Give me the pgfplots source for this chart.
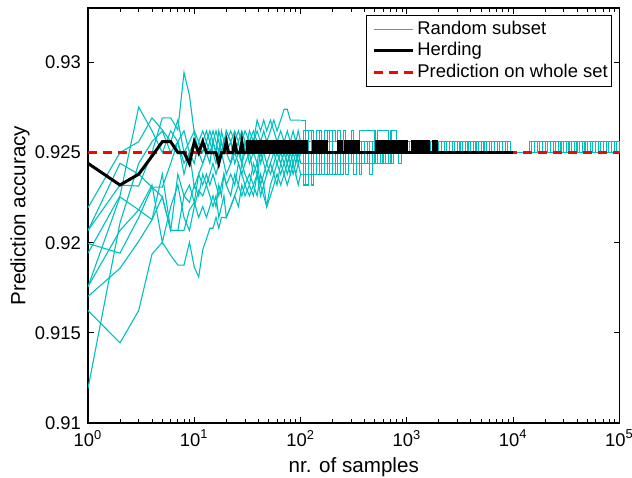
\documentclass[border=0pt]{standalone}
\usepackage{fontspec}
\setmainfont{Liberation Sans}
\usepackage{pgfplots}
\usepackage{pgfplotstable}
\pgfplotsset{compat=1.18}
\definecolor{mcyan}{RGB}{0,191,191}

% random subsets, n = 1 ... 100 (plotted as lines)
\pgfplotstableread{
n c1 c2 c3 c4 c5 c6 c7 c8 c9 c10
1 0.91192 0.91624 0.91702 0.91756 0.91942 0.91996 0.92068 0.92194 0.92068 0.91756
2 0.9211 0.91444 0.91858 0.92068 0.9226 0.91942 0.9232 0.925 0.9244 0.92254
3 0.9244 0.91624 0.92008 0.92182 0.92752 0.9214 0.92314 0.9256 0.9238 0.92182
4 0.9256 0.91936 0.92128 0.9232 0.9262 0.92308 0.925 0.92692 0.92308 0.92128
5 0.9262 0.92002 0.92254 0.92002 0.925 0.92254 0.92692 0.92626 0.92308 0.9238
6 0.925 0.9193 0.92068 0.922 0.9262 0.92068 0.92692 0.9256 0.9244 0.92068
7 0.9256 0.91876 0.92068 0.9232 0.9256 0.9238 0.92626 0.9268 0.9256 0.92068
8 0.9244 0.91876 0.92068 0.9214 0.9238 0.9226 0.92944 0.925 0.9262 0.9226
9 0.925 0.92002 0.92182 0.92068 0.925 0.92224 0.92818 0.9256 0.925 0.9232
10 0.9256 0.91864 0.92224 0.922 0.92308 0.9232 0.92608 0.9262 0.9244 0.92224
11 0.925 0.9181 0.9214 0.9229 0.9238 0.9226 0.925 0.9256 0.9256 0.9238
12 0.9244 0.9196 0.922 0.9226 0.9244 0.9238 0.9256 0.925 0.9262 0.9232
13 0.925 0.9202 0.9214 0.9232 0.925 0.9232 0.9262 0.9256 0.9256 0.9238
14 0.9256 0.9208 0.922 0.9226 0.9244 0.9238 0.9256 0.925 0.9262 0.9232
15 0.925 0.9208 0.9226 0.922 0.9256 0.9244 0.9262 0.9256 0.9256 0.9238
16 0.9244 0.9214 0.922 0.9226 0.925 0.9238 0.9256 0.9262 0.925 0.9232
17 0.925 0.9208 0.9232 0.9214 0.9262 0.9244 0.925 0.9256 0.9244 0.9226
18 0.9256 0.9214 0.9226 0.922 0.9256 0.925 0.9262 0.925 0.925 0.9232
19 0.925 0.9214 0.9238 0.9226 0.925 0.9244 0.9256 0.9256 0.9256 0.9238
20 0.9262 0.9214 0.9232 0.9214 0.9256 0.9238 0.9262 0.925 0.925 0.9232
22 0.9256 0.922 0.9226 0.922 0.9262 0.9244 0.9256 0.9256 0.9244 0.9238
24 0.925 0.9226 0.9238 0.9226 0.9256 0.925 0.9262 0.9244 0.9256 0.9232
26 0.9256 0.922 0.9232 0.9232 0.9262 0.9244 0.9256 0.925 0.925 0.9244
28 0.9244 0.9232 0.9244 0.9226 0.9256 0.9238 0.9262 0.9256 0.9244 0.9238
30 0.925 0.9226 0.9238 0.9232 0.925 0.9244 0.9256 0.9262 0.9256 0.9232
33 0.9256 0.9232 0.9232 0.9238 0.9262 0.925 0.925 0.9256 0.9244 0.9226
36 0.925 0.9226 0.9244 0.9232 0.9256 0.9238 0.9256 0.9262 0.925 0.9232
39 0.9256 0.9238 0.9238 0.9226 0.9268 0.9244 0.9262 0.9256 0.9244 0.9238
42 0.9244 0.9232 0.925 0.9238 0.9262 0.9232 0.9256 0.925 0.9256 0.9226
45 0.925 0.9226 0.9244 0.9232 0.9268 0.9238 0.9262 0.9256 0.925 0.9232
48 0.9256 0.922 0.9238 0.9238 0.9262 0.9244 0.9256 0.925 0.9244 0.922
52 0.925 0.9232 0.9244 0.9244 0.9268 0.9238 0.9262 0.9256 0.925 0.9226
56 0.9256 0.9238 0.925 0.9238 0.9262 0.9244 0.9268 0.925 0.9256 0.9232
60 0.925 0.9232 0.9244 0.9244 0.9256 0.925 0.9262 0.9256 0.925 0.9238
65 0.9244 0.9244 0.9238 0.925 0.9262 0.9244 0.9268 0.925 0.9256 0.9232
70 0.925 0.9238 0.9244 0.9244 0.9256 0.925 0.9274 0.9256 0.925 0.9238
75 0.9256 0.9232 0.925 0.9238 0.925 0.9244 0.9274 0.9262 0.9244 0.9244
80 0.925 0.9238 0.9244 0.9244 0.9256 0.925 0.9268 0.9256 0.925 0.9238
85 0.9256 0.9244 0.925 0.9238 0.9262 0.9244 0.9268 0.925 0.9256 0.9244
90 0.925 0.9238 0.9244 0.9244 0.9256 0.925 0.9268 0.9256 0.925 0.9238
95 0.9256 0.9232 0.925 0.925 0.9262 0.9244 0.9268 0.925 0.9256 0.9244
100 0.925 0.9238 0.9244 0.9244 0.9256 0.925 0.9268 0.9256 0.925 0.9238
}\tabA

% random subsets, n = 100 ... 100000 (step changes)
\pgfplotstableread{
n c1 c2 c3 c4 c5 c6 c7 c8 c9 c10
100 0.925 0.9238 0.9244 0.9244 0.9256 0.925 0.9268 0.9256 0.925 0.9238
106 0.9256 0.9232 0.925 0.9238 0.9262 0.9244 0.9268 0.925 0.9256 0.9244
112 0.925 0.9238 0.9244 0.9244 0.9256 0.925 0.9262 0.9256 0.925 0.9232
119 0.9244 0.9244 0.9238 0.9238 0.9262 0.9256 0.9262 0.925 0.9244 0.9238
126 0.925 0.9238 0.9244 0.9232 0.9256 0.925 0.9262 0.9244 0.9238 0.9244
133 0.9256 0.9244 0.925 0.9238 0.925 0.9244 0.9256 0.925 0.9244 0.9238
141 0.925 0.9238 0.9244 0.9244 0.9256 0.925 0.9262 0.9256 0.925 0.9244
150 0.9256 0.9244 0.9238 0.9238 0.9262 0.9256 0.9262 0.925 0.9244 0.9238
158 0.925 0.9244 0.9244 0.9244 0.9256 0.925 0.9256 0.9244 0.925 0.9238
168 0.925 0.9238 0.925 0.9238 0.9256 0.9244 0.9262 0.925 0.9256 0.9244
178 0.9256 0.9244 0.9244 0.9244 0.9262 0.925 0.9256 0.9256 0.925 0.9238
188 0.925 0.9244 0.9238 0.9238 0.9256 0.9256 0.9262 0.925 0.9244 0.9244
200 0.9256 0.925 0.9244 0.9244 0.9262 0.925 0.9256 0.9244 0.9238 0.9238
211 0.9256 0.9244 0.925 0.9238 0.9256 0.9244 0.9256 0.925 0.9244 0.9244
224 0.925 0.9238 0.9244 0.9244 0.925 0.925 0.9262 0.9256 0.925 0.9244
237 0.9244 0.9244 0.925 0.925 0.9256 0.9256 0.9256 0.925 0.9244 0.9238
251 0.925 0.925 0.9256 0.9244 0.9262 0.925 0.925 0.9244 0.925 0.9244
266 0.9256 0.9244 0.925 0.9238 0.9256 0.9244 0.9256 0.9244 0.9256 0.9244
282 0.925 0.9244 0.9244 0.9244 0.9256 0.925 0.9256 0.925 0.925 0.925
299 0.9256 0.925 0.925 0.9244 0.9262 0.925 0.925 0.9256 0.9244 0.9244
316 0.925 0.9244 0.9256 0.925 0.9256 0.9256 0.9256 0.925 0.925 0.9238
335 0.925 0.925 0.925 0.9244 0.9256 0.925 0.9256 0.9244 0.9244 0.9244
355 0.9256 0.9244 0.9244 0.9238 0.9262 0.9244 0.925 0.925 0.925 0.9244
376 0.925 0.925 0.925 0.9244 0.9262 0.925 0.9256 0.9256 0.9244 0.925
398 0.9256 0.925 0.9256 0.925 0.9262 0.925 0.9256 0.925 0.925 0.9244
422 0.925 0.9244 0.925 0.9244 0.9262 0.9256 0.925 0.9244 0.925 0.9244
447 0.9256 0.925 0.9244 0.9238 0.9262 0.925 0.9256 0.925 0.9244 0.925
473 0.925 0.925 0.925 0.9244 0.9262 0.9244 0.9256 0.9256 0.925 0.9244
501 0.9256 0.9244 0.925 0.925 0.9256 0.925 0.925 0.925 0.9256 0.9244
531 0.9256 0.925 0.9256 0.9244 0.9262 0.925 0.9256 0.9244 0.925 0.9244
562 0.925 0.9256 0.925 0.925 0.9262 0.9256 0.9256 0.925 0.9244 0.925
596 0.9256 0.925 0.9244 0.9244 0.9262 0.925 0.925 0.925 0.925 0.9244
631 0.925 0.925 0.925 0.9244 0.9262 0.925 0.9256 0.9256 0.925 0.925
668 0.925 0.9256 0.9256 0.925 0.9256 0.9244 0.9256 0.925 0.9256 0.925
708 0.9256 0.925 0.925 0.9244 0.9262 0.925 0.9256 0.9244 0.925 0.9244
750 0.925 0.925 0.925 0.925 0.9262 0.9256 0.925 0.925 0.9256 0.925
794 0.9256 0.9256 0.9256 0.925 0.9256 0.925 0.9256 0.925 0.925 0.925
841 0.925 0.925 0.925 0.9244 0.9256 0.925 0.9256 0.9256 0.925 0.925
891 0.9256 0.925 0.9256 0.925 0.9256 0.9256 0.925 0.925 0.9256 0.925
944 0.925 0.9256 0.925 0.925 0.925 0.925 0.9256 0.925 0.9256 0.925
1000 0.9256 0.925 0.925 0.925 0.9256 0.925 0.9256 0.9256 0.925 0.925
1059 0.925 0.925 0.9256 0.925 0.9256 0.925 0.9256 0.925 0.9256 0.925
1122 0.9256 0.925 0.925 0.925 0.9256 0.9256 0.925 0.925 0.925 0.925
1189 0.925 0.9256 0.9256 0.925 0.9256 0.925 0.9256 0.9256 0.9256 0.925
1259 0.9256 0.925 0.9256 0.925 0.9256 0.925 0.9256 0.925 0.925 0.925
1334 0.925 0.925 0.925 0.925 0.9256 0.9256 0.9256 0.9256 0.9256 0.925
1413 0.925 0.925 0.9256 0.9256 0.9256 0.925 0.925 0.925 0.9256 0.925
1496 0.9256 0.9256 0.925 0.925 0.9256 0.925 0.9256 0.925 0.925 0.925
1585 0.925 0.925 0.9256 0.925 0.9256 0.9256 0.9256 0.9256 0.925 0.925
1679 0.9256 0.925 0.9256 0.925 0.9256 0.925 0.925 0.925 0.9256 0.925
1778 0.925 0.925 0.925 0.925 0.9256 0.925 0.9256 0.9256 0.925 0.925
1884 0.9256 0.925 0.9256 0.925 0.9256 0.9256 0.9256 0.925 0.9256 0.925
1995 0.9256 0.9256 0.925 0.925 0.9256 0.925 0.9256 0.9256 0.925 0.925
2113 0.925 0.925 0.9256 0.9256 0.9256 0.925 0.925 0.925 0.9256 0.925
2239 0.9256 0.925 0.925 0.925 0.9256 0.9256 0.9256 0.925 0.9256 0.925
2371 0.925 0.925 0.9256 0.925 0.9256 0.925 0.9256 0.9256 0.925 0.925
2512 0.9256 0.9256 0.9256 0.925 0.9256 0.925 0.925 0.925 0.9256 0.925
2661 0.925 0.925 0.925 0.925 0.9256 0.9256 0.9256 0.9256 0.925 0.925
2818 0.9256 0.925 0.9256 0.925 0.9256 0.925 0.9256 0.925 0.925 0.925
2985 0.925 0.925 0.925 0.925 0.9256 0.9256 0.9256 0.9256 0.9256 0.925
3162 0.9256 0.925 0.9256 0.925 0.9256 0.925 0.925 0.9256 0.925 0.925
3350 0.925 0.925 0.9256 0.925 0.9256 0.925 0.9256 0.925 0.9256 0.925
3548 0.9256 0.925 0.925 0.925 0.9256 0.9256 0.9256 0.9256 0.925 0.925
3758 0.925 0.9256 0.9256 0.925 0.9256 0.925 0.925 0.925 0.9256 0.925
3981 0.9256 0.925 0.925 0.925 0.9256 0.925 0.9256 0.9256 0.9256 0.925
4217 0.925 0.925 0.9256 0.925 0.9256 0.9256 0.9256 0.925 0.925 0.925
4467 0.9256 0.925 0.9256 0.925 0.9256 0.925 0.9256 0.925 0.9256 0.925
4732 0.9256 0.925 0.925 0.925 0.9256 0.9256 0.925 0.9256 0.925 0.925
5012 0.925 0.9256 0.9256 0.925 0.9256 0.925 0.9256 0.925 0.9256 0.925
5309 0.9256 0.925 0.925 0.925 0.9256 0.925 0.9256 0.9256 0.925 0.925
5623 0.925 0.925 0.9256 0.925 0.9256 0.9256 0.925 0.925 0.9256 0.925
5957 0.9256 0.925 0.9256 0.925 0.9256 0.925 0.9256 0.9256 0.9256 0.925
6310 0.925 0.9256 0.925 0.925 0.9256 0.9256 0.9256 0.925 0.925 0.925
6683 0.9256 0.925 0.9256 0.925 0.9256 0.925 0.9256 0.925 0.9256 0.925
7079 0.925 0.925 0.925 0.925 0.9256 0.925 0.925 0.9256 0.925 0.925
7499 0.9256 0.925 0.9256 0.925 0.9256 0.9256 0.9256 0.925 0.9256 0.925
7943 0.925 0.925 0.9256 0.925 0.9256 0.925 0.9256 0.9256 0.9256 0.925
8414 0.9256 0.9256 0.925 0.925 0.9256 0.9256 0.925 0.925 0.925 0.925
8913 0.925 0.925 0.925 0.925 0.9256 0.925 0.925 0.925 0.925 0.925
9441 0.925 0.925 0.925 0.925 0.925 0.925 0.925 0.925 0.925 0.925
14125 0.9256 0.925 0.925 0.925 0.9256 0.925 0.9256 0.925 0.9256 0.925
14962 0.925 0.925 0.9256 0.925 0.9256 0.9256 0.9256 0.925 0.925 0.925
15849 0.9256 0.9256 0.925 0.925 0.9256 0.925 0.925 0.9256 0.9256 0.925
16788 0.925 0.925 0.9256 0.925 0.9256 0.925 0.9256 0.925 0.925 0.925
17783 0.9256 0.925 0.9256 0.925 0.9256 0.9256 0.9256 0.9256 0.925 0.925
18836 0.925 0.925 0.925 0.925 0.9256 0.925 0.9256 0.925 0.9256 0.925
19953 0.9256 0.9256 0.9256 0.925 0.9256 0.9256 0.925 0.925 0.925 0.925
21135 0.9256 0.925 0.925 0.925 0.9256 0.925 0.9256 0.9256 0.9256 0.925
22387 0.925 0.925 0.9256 0.925 0.9256 0.925 0.9256 0.925 0.925 0.925
23714 0.9256 0.925 0.9256 0.925 0.9256 0.9256 0.925 0.9256 0.9256 0.925
25119 0.925 0.925 0.925 0.925 0.9256 0.925 0.9256 0.925 0.9256 0.925
26607 0.9256 0.9256 0.9256 0.925 0.9256 0.9256 0.9256 0.925 0.925 0.925
28184 0.925 0.925 0.925 0.925 0.9256 0.925 0.9256 0.9256 0.9256 0.925
29854 0.9256 0.925 0.9256 0.925 0.9256 0.925 0.925 0.925 0.925 0.925
31623 0.925 0.9256 0.9256 0.925 0.9256 0.9256 0.9256 0.9256 0.925 0.925
33497 0.9256 0.925 0.925 0.925 0.9256 0.925 0.9256 0.925 0.9256 0.925
35481 0.925 0.925 0.9256 0.925 0.9256 0.9256 0.925 0.9256 0.925 0.925
37584 0.925 0.925 0.925 0.925 0.9256 0.925 0.9256 0.925 0.9256 0.925
39811 0.9256 0.9256 0.9256 0.925 0.9256 0.925 0.9256 0.925 0.925 0.925
42170 0.925 0.925 0.925 0.925 0.9256 0.9256 0.9256 0.9256 0.9256 0.925
44668 0.9256 0.925 0.9256 0.925 0.9256 0.925 0.925 0.925 0.9256 0.925
47315 0.925 0.925 0.9256 0.925 0.9256 0.9256 0.9256 0.9256 0.925 0.925
50119 0.9256 0.925 0.925 0.925 0.9256 0.925 0.9256 0.925 0.9256 0.925
53088 0.925 0.9256 0.9256 0.925 0.9256 0.925 0.925 0.925 0.925 0.925
56234 0.9256 0.925 0.925 0.925 0.9256 0.9256 0.9256 0.9256 0.925 0.925
59566 0.925 0.925 0.9256 0.925 0.9256 0.925 0.9256 0.925 0.9256 0.925
63096 0.9256 0.9256 0.9256 0.925 0.9256 0.9256 0.9256 0.9256 0.925 0.925
66834 0.925 0.925 0.925 0.925 0.9256 0.925 0.925 0.925 0.9256 0.925
70795 0.9256 0.925 0.9256 0.925 0.9256 0.925 0.9256 0.925 0.925 0.925
74989 0.925 0.925 0.925 0.925 0.9256 0.9256 0.9256 0.9256 0.9256 0.925
79433 0.9256 0.925 0.9256 0.925 0.9256 0.925 0.925 0.925 0.9256 0.925
84140 0.925 0.9256 0.9256 0.925 0.9256 0.9256 0.9256 0.9256 0.925 0.925
89125 0.9256 0.925 0.925 0.925 0.9256 0.925 0.9256 0.925 0.9256 0.925
94406 0.925 0.925 0.9256 0.925 0.9256 0.925 0.9256 0.9256 0.925 0.925
100000 0.9256 0.925 0.9256 0.925 0.9256 0.925 0.9256 0.925 0.9256 0.925
}\tabB

\begin{document}
\begin{tikzpicture}
\begin{axis}[
  scale only axis, width=265.75pt, height=207.35pt,
  xmode=log, xmin=1, xmax=100000, ymin=0.91, ymax=0.933,
  xtick={1,10,100,1000,10000,100000},
  xticklabels={10\textsuperscript{0},10\textsuperscript{1},10\textsuperscript{2},10\textsuperscript{3},10\textsuperscript{4},10\textsuperscript{5}},
  minor xtick={2,3,4,5,6,7,8,9,20,30,40,50,60,70,80,90,200,300,400,500,600,700,800,900,2000,3000,4000,5000,6000,7000,8000,9000,20000,30000,40000,50000,60000,70000,80000,90000},
  ytick={0.91,0.915,0.92,0.925,0.93},
  yticklabels={0.91,0.915,0.92,0.925,0.93},
  tick align=inside, tick pos=both,
  major tick length=3pt, minor tick length=1.8pt,
  every tick/.style={black, line width=0.45pt},
  axis line style={line width=0.8pt},
  tick label style={font=\fontsize{9.2}{11}\selectfont},
  label style={font=\fontsize{10.3}{12}\selectfont},
  xlabel={nr. of samples},
  ylabel={Prediction accuracy},
  xlabel style={at={(axis description cs:0.5,0)}, anchor=center, yshift=-22pt},
  ylabel style={at={(axis description cs:-0.128,0.5)}, anchor=center},
  legend style={at={(axis description cs:1,1)}, anchor=north east,
    xshift=-3.6pt, yshift=-3.35pt, draw=black, line width=0.6pt,
    font=\fontsize{9.2}{11}\selectfont, inner xsep=1pt, inner ysep=1.5pt,
    row sep=0pt, column sep=0.5pt, cells={anchor=west},
    nodes={inner xsep=1pt, inner ysep=0.9pt, text height=7pt, text depth=2pt}},
  legend image code/.code={\path (0pt,0pt); \draw[#1] (2pt,0pt) -- (21.5pt,0pt);},
]
\addlegendimage{mcyan, line width=0.55pt}
\addlegendentry{Random subset}
\addlegendimage{black, line width=1.5pt}
\addlegendentry{Herding}
\addlegendimage{red, line width=1.5pt, dash pattern=on 4.5pt off 3pt}
\addlegendentry{Prediction on whole set}

\pgfplotsinvokeforeach{1,...,10}{
  \addplot[mcyan, line width=0.55pt, forget plot] table[x=n, y=c#1] {\tabA};
  \addplot[mcyan, line width=0.55pt, forget plot, const plot] table[x=n, y=c#1] {\tabB};
}

\addplot[red, line width=1.5pt, dash pattern=on 4.5pt off 3pt, forget plot] coordinates {(1,0.925) (100000,0.925)};

\addplot[black, line width=1.5pt, forget plot] coordinates {
(1,0.9244)(2,0.9232)(3,0.9238)(4,0.9248)(5,0.9256)(6,0.9256)(7,0.925)(8,0.925)(9,0.9244)(10,0.9256)(11,0.925)(12,0.9256)(13,0.925)(16,0.925)(17,0.9244)(18,0.925)(19,0.925)(20,0.9256)(21,0.925)(23,0.925)(24,0.9256)(25,0.925)(27,0.925)(28,0.9256)(29,0.925)(31,0.925)};
\addplot[black, line width=1.5pt, forget plot, const plot] coordinates {
(31,0.925)(32,0.9256)(34,0.925)(35,0.9256)(36,0.925)(38,0.9256)(39,0.925)(41,0.9256)(43,0.925)(44,0.9256)(45,0.925)(47,0.9256)(48,0.925)(50,0.9256)(52,0.925)(53,0.9256)(54,0.925)(56,0.9256)(57,0.925)(59,0.9256)(61,0.925)(62,0.9256)(63,0.925)(66,0.9256)(67,0.925)(69,0.9256)(71,0.925)(73,0.9256)(74,0.925)(77,0.9256)(78,0.925)(81,0.9256)(83,0.925)(85,0.9256)(86,0.925)(89,0.9256)(91,0.925)(94,0.9256)(95,0.925)(99,0.9256)(101,0.925)(104,0.9256)(106,0.925)(109,0.9256)(110,0.925)(113,0.9256)(114,0.925)
(131,0.9256)(133,0.925)(139,0.9256)(141,0.925)(148,0.9256)(150,0.925)(157,0.9256)(160,0.925)(167,0.9256)(170,0.925)(175,0.9256)(176,0.925)
(225,0.9256)(229,0.925)(238,0.9256)(244,0.925)
(262,0.9256)(265,0.925)(280,0.9256)(285,0.925)(300,0.9256)(303,0.925)(318,0.9256)(322,0.925)(338,0.9256)(347,0.925)
(520,0.9256)(526,0.925)(555,0.9256)(560,0.925)(590,0.9256)(598,0.925)(625,0.9256)(630,0.925)(665,0.9256)(672,0.925)(705,0.9256)(712,0.925)(748,0.9256)(755,0.925)(790,0.9256)(800,0.925)(845,0.9256)(861,0.925)
(893,0.9256)(905,0.925)(950,0.9256)(996,0.925)
(1141,0.9256)(1160,0.925)(1220,0.9256)(1240,0.925)(1300,0.9256)(1330,0.925)(1400,0.9256)(1420,0.925)(1490,0.9256)(1520,0.925)(1560,0.9256)(1580,0.925)
(1762,0.9256)(1790,0.925)(1870,0.9256)(1906,0.925)
(10000,0.925)};

\coordinate (SW) at (rel axis cs:0,0);
\coordinate (NE) at (rel axis cs:1,1);
\end{axis}
\pgfresetboundingbox
\path ([shift={(-44pt,-27pt)}]SW) rectangle ([shift={(6.25pt,4.15pt)}]NE);
\end{tikzpicture}
\end{document}
